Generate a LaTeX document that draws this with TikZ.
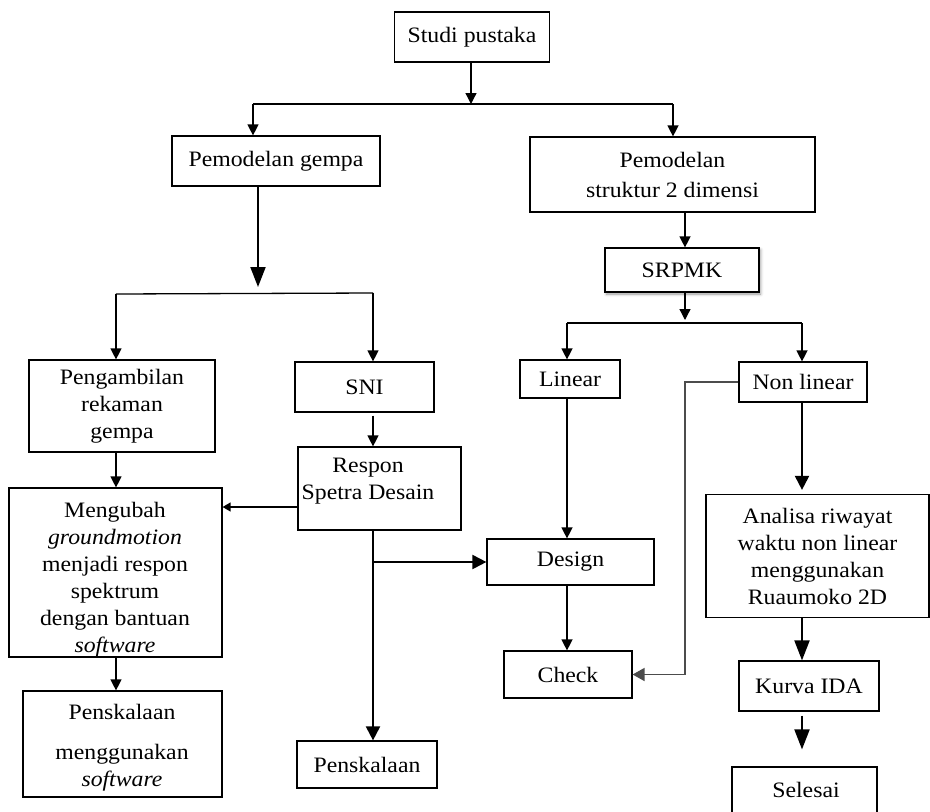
\documentclass[tikz,border=0pt]{standalone}
\usepackage{fontspec}
\setmainfont{Liberation Serif}[FakeStretch=1.08]
\usetikzlibrary{arrows.meta,shadows.blur,calc}
\tikzset{
  box/.style={draw, line width=1.2pt, rectangle, inner sep=0pt, align=center, font=\fontsize{22}{27}\selectfont},
  txt/.style={inner sep=0pt, align=center, font=\fontsize{22}{27}\selectfont},
  conn/.style={line width=1.3pt},
  arr/.style={conn, -{Triangle[length=11pt,width=11pt]}},
  bigarr/.style={line width=2pt, -{Triangle[length=20pt,width=15pt]}},
  thickarr/.style={line width=2pt, -{Triangle[length=14pt,width=14pt]}},
  smallarr/.style={conn, -{Triangle[length=8pt,width=9pt]}},
  looparr/.style={line width=1.7pt, draw=black!70, -{Triangle[length=12pt,width=13pt]}},
}
\begin{document}
\begin{tikzpicture}[x=1pt,y=-1pt]
\useasboundingbox (0,0) rectangle (930,812);

% nodes
\node[box,minimum width=155pt,minimum height=50pt] (studi) at (472,37) {Studi pustaka};
\node[box,minimum width=208pt,minimum height=50pt] (gempa) at (276,161) {Pemodelan gempa};
\node[box,minimum width=285pt,minimum height=75pt] (struktur) at (672.5,174.5) {Pemodelan\\[3pt]struktur 2 dimensi};
\node[box,minimum width=154pt,minimum height=44pt,fill=white,
      blur shadow={shadow xshift=1.5pt,shadow yshift=-2pt,shadow blur radius=3pt,shadow opacity=40}] (srpmk) at (682,270) {SRPMK};
\node[box,minimum width=186pt,minimum height=92pt] (pengambilan) at (122,406) {Pengambilan\\rekaman\\gempa};
\node[box,minimum width=139pt,minimum height=50pt] (sni) at (364.5,387) {SNI};
\node[box,minimum width=163pt,minimum height=83pt] (respon) at (379.5,488.5) {};
\node[txt] (respontxt) at (368,481) {Respon\\Spetra Desain};
\node[box,minimum width=213pt,minimum height=169pt] (mengubah) at (115.5,572.5) {};
\node[txt] (mengubahtxt) at (115,580) {Mengubah\\\textit{groundmotion}\\menjadi respon\\spektrum\\dengan bantuan\\\textit{software}};
\node[box,minimum width=199pt,minimum height=106pt] (penskalaansw) at (122.5,744) {};
\node[txt] (penskalaanswtxt) at (122,748) {Penskalaan\\[13pt]menggunakan\\\textit{software}};
\node[box,minimum width=140pt,minimum height=47pt] (penskalaan) at (367,764.5) {Penskalaan};
\node[box,minimum width=100pt,minimum height=38pt] (linear) at (570,379) {Linear};
\node[box,minimum width=128pt,minimum height=40pt] (nonlinear) at (803,382) {Non linear};
\node[box,minimum width=167pt,minimum height=46pt] (design) at (570.5,562) {Design};
\node[box,minimum width=128pt,minimum height=47pt] (check) at (568,674.5) {Check};
\node[box,minimum width=223pt,minimum height=123pt] (analisa) at (817.5,556) {Analisa riwayat\\waktu non linear\\menggunakan\\Ruaumoko 2D};
\node[box,minimum width=140pt,minimum height=50pt] (kurva) at (809,686) {Kurva IDA};
\node[box,minimum width=145pt,minimum height=66pt] (selesai) at (804.5,800) {};
\node[txt] (selesaitxt) at (806,790) {Selesai};

% junction coordinates
\coordinate (j0) at (471,104);
\coordinate (ja) at (253,104);
\coordinate (jb) at (673,104);
\coordinate (jc) at (258,287);
\coordinate (jd) at (116,294);
\coordinate (je) at (373,293);
\coordinate (jf) at (685,323);
\coordinate (jg) at (567,323);
\coordinate (jh) at (802,323);

% top split
\draw[arr] (studi.south -| j0) -- (j0);
\draw[conn] (ja) -- (jb);
\draw[arr] (ja) -- (ja |- gempa.north);
\draw[arr] (jb) -- (jb |- struktur.north);

% left branch
\draw[bigarr] (gempa.south -| jc) -- (jc);
\draw[conn] (jd) -- (je);
\draw[arr] (jd) -- (jd |- pengambilan.north);
\draw[arr] (je) -- (je |- sni.north);
\draw[arr] ([yshift=-3pt]sni.south -| je) -- (respon.north -| je);
\draw[arr] (pengambilan.south -| jd) -- (mengubah.north -| jd);
\draw[arr] (mengubah.south -| jd) -- (penskalaansw.north -| jd);
\draw[smallarr] ([yshift=-18.5pt]respon.west) -- ([yshift=-18.5pt]respon.west -| mengubah.east);
\draw[thickarr] (respon.south -| je) -- (penskalaan.north -| je);
\draw[thickarr] (je |- design.west) -- (design.west);

% right branch
\draw[arr] (struktur.south -| jf) -- (srpmk.north -| jf);
\draw[arr] (srpmk.south -| jf) -- ([yshift=3pt]jf);
\draw[conn] (jg) -- (jh);
\draw[arr] (jg) -- (jg |- linear.north);
\draw[arr] (jh) -- (jh |- nonlinear.north);
\draw[arr] (linear.south -| jg) -- (design.north -| jg);
\draw[arr] (design.south -| jg) -- (check.north -| jg);
\draw[looparr] (nonlinear.west) -- (nonlinear.west -| jf) -- (jf |- check.east) -- (check.east);
\draw[thickarr] (nonlinear.south -| jh) -- ([yshift=4pt]analisa.north -| jh);
\draw[bigarr] (analisa.south -| jh) -- (kurva.north -| jh);
\draw[bigarr] ([yshift=-4pt]kurva.south -| jh) -- ([yshift=17pt]selesai.north -| jh);
\end{tikzpicture}
\end{document}
